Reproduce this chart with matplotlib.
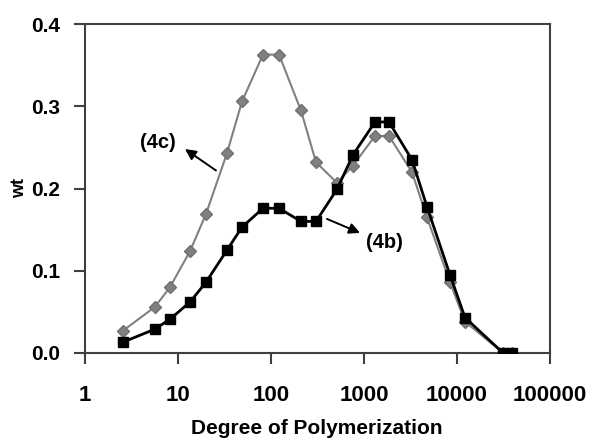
import matplotlib
matplotlib.use("Agg")
import matplotlib.pyplot as plt

plt.rcParams['font.family'] = ['Liberation Sans', 'DejaVu Sans']

# Degree of polymerization (x) values
dp = [2.56, 5.66, 8.2, 13.5, 20, 33.6, 48.8, 82, 122, 210, 305, 512, 762,
      1313, 1857, 3281, 4756, 8410, 12190, 31250, 39000]

# Weight fractions
w_4b = [0.013, 0.029, 0.041, 0.062, 0.086, 0.125, 0.153, 0.176, 0.176, 0.160,
        0.160, 0.199, 0.241, 0.281, 0.281, 0.235, 0.178, 0.095, 0.043, 0.0, 0.0]
w_4c = [0.027, 0.056, 0.080, 0.124, 0.169, 0.243, 0.306, 0.363, 0.363, 0.295,
        0.232, 0.207, 0.228, 0.264, 0.264, 0.220, 0.165, 0.086, 0.038, 0.0, 0.0]

x_ticks = [1, 10, 100, 1000, 10000, 100000]
x_ticklabels = ["1", "10", "100", "1000", "10000", "100000"]
y_ticks = [0.0, 0.1, 0.2, 0.3, 0.4]
y_ticklabels = ["0.0", "0.1", "0.2", "0.3", "0.4"]

fig = plt.figure(figsize=(5.92, 4.40), dpi=100)
ax = fig.add_axes([0.1436, 0.198, 0.7854, 0.747])

ax.plot(dp, w_4c, color='#808080', marker='D', markersize=6.5, linewidth=1.5,
        markeredgecolor='#707070', markerfacecolor='#808080', zorder=2)
ax.plot(dp, w_4b, color='black', marker='s', markersize=6.5, linewidth=2.0,
        zorder=3)

ax.set_xscale('log')
ax.set_xlim(1, 100000)
ax.set_ylim(0, 0.4)
ax.set_xticks(x_ticks)
ax.set_xticklabels(x_ticklabels)
ax.minorticks_off()
ax.set_yticks(y_ticks)
ax.set_yticklabels(y_ticklabels)

for sp in ax.spines.values():
    sp.set_color('#404040')
    sp.set_linewidth(1.5)

ax.tick_params(axis='x', direction='out', length=8, width=1.5, color='#404040',
               pad=15, labelsize=16)
ax.tick_params(axis='y', direction='out', length=8, width=1.5, color='#404040',
               pad=10, labelsize=15)
for lab in ax.get_xticklabels() + ax.get_yticklabels():
    lab.set_fontweight('bold')

fig.text(0.535, 0.027, "Degree of Polymerization", ha='center', va='center',
         fontsize=15, fontweight='bold')
fig.text(0.033, 0.572, "wt", ha='center', va='center', rotation=90,
         fontsize=13, fontweight='bold')

# annotations: labels with arrows pointing toward the label
ax.text(6.1, 0.256, "(4c)", fontsize=14.5, fontweight='bold',
        ha='center', va='center')
ax.annotate("", xy=(11.9, 0.248), xytext=(25.6, 0.222),
            arrowprops=dict(arrowstyle='-|>', color='black', lw=1.4,
                            mutation_scale=16, shrinkA=0, shrinkB=0))
ax.text(1641, 0.134, "(4b)", fontsize=14.5, fontweight='bold',
        ha='center', va='center')
ax.annotate("", xy=(906, 0.146), xytext=(400, 0.163),
            arrowprops=dict(arrowstyle='-|>', color='black', lw=1.4,
                            mutation_scale=16, shrinkA=0, shrinkB=0))

fig.savefig("out.png", dpi=100)
